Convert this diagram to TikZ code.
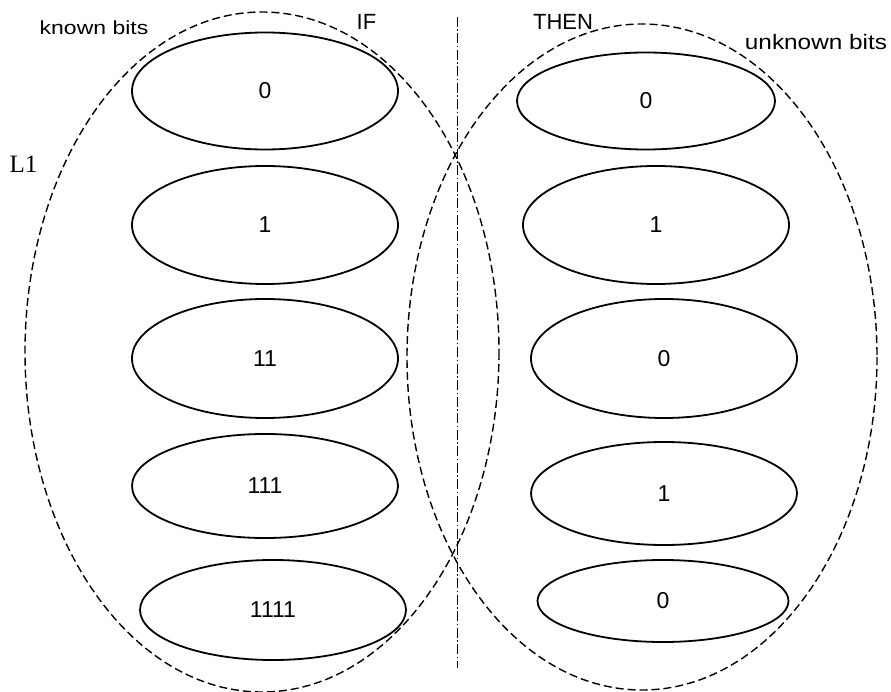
\documentclass[tikz,border=0pt]{standalone}
\usepackage{fontspec}
\setmainfont{Liberation Sans}
\newfontfamily\serifL{Liberation Serif}
\usetikzlibrary{shapes.geometric}
\begin{document}
\begin{tikzpicture}[x=1pt,y=-1pt,
  bitset/.style={draw,ellipse,line width=1.8pt,inner sep=0pt,
    font=\fontsize{23}{26}\selectfont},
  bigset/.style={draw,line width=1.4pt,dash pattern=on 8pt off 4pt},
  divider/.style={draw,line width=0.9pt,dash pattern=on 10pt off 2.5pt on 1.5pt off 2.5pt},
  head/.style={inner sep=0pt,anchor=base,font=\fontsize{22}{26}\selectfont}]
\useasboundingbox (0,0) rectangle (891,692);

% the two dashed outer sets
\draw[bigset] (262,352) ellipse [x radius=237, y radius=340];
\draw[bigset] (642,357) ellipse [x radius=235, y radius=333];

% dash-dot separator between the IF and THEN sides
\coordinate (sepTop) at (457,17);
\coordinate (sepBot) at (457,668);
\draw[divider] (sepTop) -- (sepBot);

% known bits (left column)
\node[bitset,minimum width=266pt,minimum height=117pt] (k1) at (265,91) {0};
\node[bitset,minimum width=266pt,minimum height=118pt] (k2) at (265,225) {1};
\node[bitset,minimum width=266pt,minimum height=119pt] (k3) at (265,358.5) {11};
\node[bitset,minimum width=266pt,minimum height=104pt] (k4) at (265,486) {111};
\node[bitset,minimum width=266pt,minimum height=100pt] (k5) at (273,610) {1111};

% unknown bits (right column)
\node[bitset,minimum width=258pt,minimum height=97pt]  (u1) at (646,101) {0};
\node[bitset,minimum width=266pt,minimum height=118pt] (u2) at (656,225) {1};
\node[bitset,minimum width=266pt,minimum height=119pt] (u3) at (664,358.5) {0};
\node[bitset,minimum width=266pt,minimum height=103pt] (u4) at (664,493.5) {1};
\node[bitset,minimum width=251pt,minimum height=82pt]  (u5) at (663,601) {0};

% labels
\node[head,font=\fontsize{19}{22}\selectfont] (known) at (94,35) {\scalebox{1.21}[1]{known bits}};
\node[head] (if) at (366.5,30) {IF};
\node[head] (then) at (563,30) {THEN};
\node[head,font=\fontsize{21}{24}\selectfont] (unknown) at (816,50) {\scalebox{1.16}[1]{unknown bits}};
\node[head,font=\serifL\fontsize{25}{28}\selectfont] (level) at (23.5,173) {L1};
\end{tikzpicture}
\end{document}
